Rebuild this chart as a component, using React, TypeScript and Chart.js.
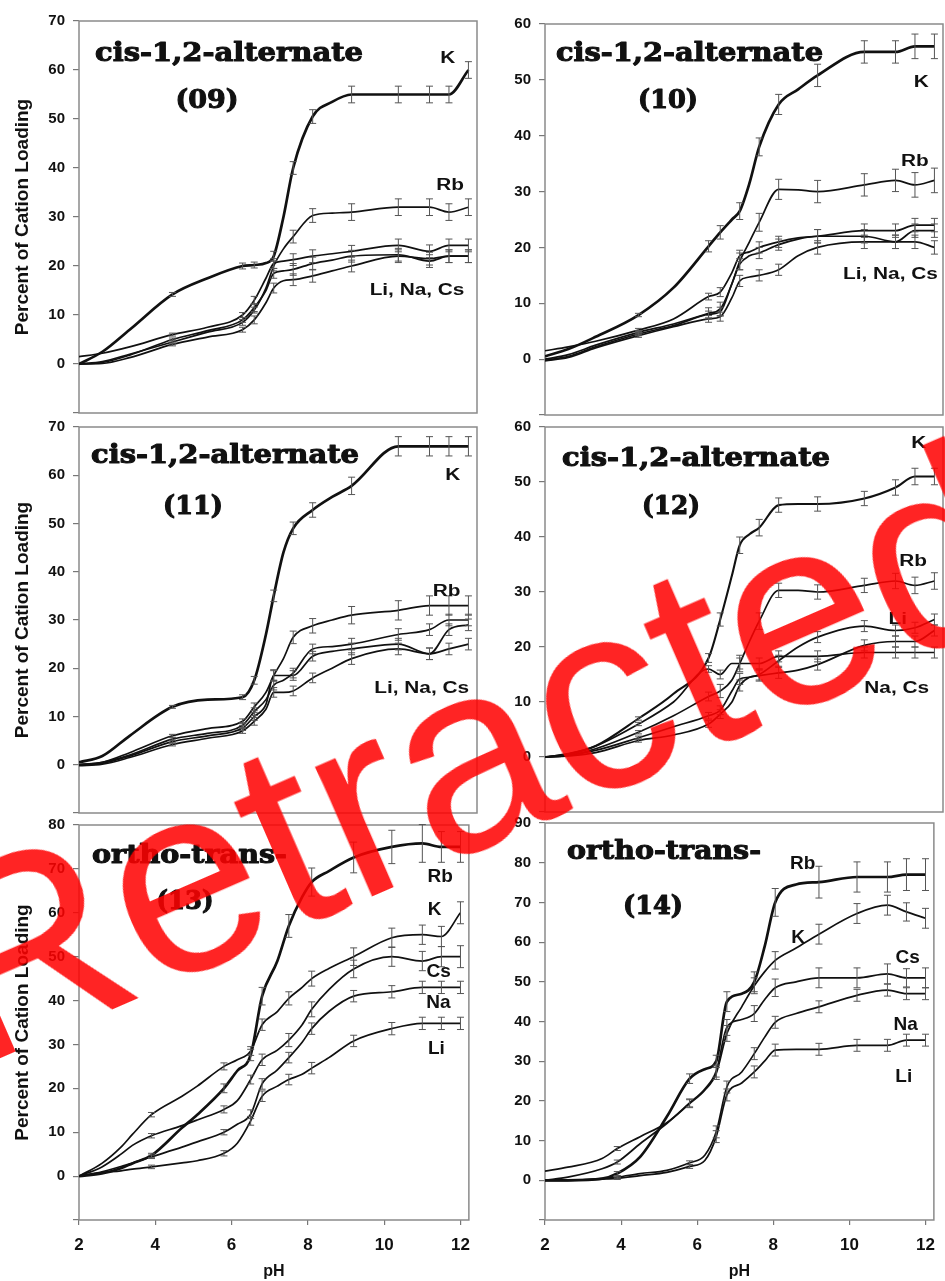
import React, { useEffect, useRef } from "react";
import { Chart, registerables } from "chart.js";

Chart.register(...registerables);

const FONT = '"Liberation Sans", Arial, Helvetica, sans-serif';
const SERIF = '"DejaVu Serif", "Liberation Serif", serif';

// ---------- axis values ----------
const xTicks = [2, 4, 6, 8, 10, 12];
const yTitle = "Percent of Cation Loading";
const xTitle = "pH";

// ---------- pH grids ----------
const phTop = [2, 2.6, 3.3, 4.4, 5.3, 6.2, 6.5, 6.8, 7.0, 7.25, 7.5, 8.0, 8.5, 9.0, 10.2, 11, 11.5, 12];
const ph13 = [2, 2.6, 3.1, 3.4, 3.9, 4.7, 5.1, 5.8, 6.15, 6.5, 6.8, 7.2, 7.5, 7.85, 8.1, 8.55, 9.2, 10.2, 11, 11.5, 12];
const ph14 = [2, 2.6, 3.5, 3.9, 4.5, 5.2, 5.8, 6.2, 6.5, 6.78, 7.17, 7.5, 7.77, 8.05, 8.6, 9.2, 10.2, 11, 11.5, 12];

// ---------- panel (09) ----------
const k09 = [0, 2.5, 7, 14.2, 17.5, 20, 20.2, 20.6, 22, 30, 40, 50.5, 53.5, 55, 55, 55, 55, 60];
const rb09 = [0, 0.5, 2, 4.5, 6.5, 8.5, 11, 15.5, 20, 23.5, 26, 30.3, 30.8, 31, 32, 32, 31, 32];
const cs09 = [1.5, 2.2, 3.5, 6, 7.5, 10, 13, 17.5, 20.5, 21, 21.3, 22, 22.5, 23, 24.2, 23, 24.2, 24.2];
const na09 = [0, 0.3, 1.8, 5, 6.8, 9, 11.5, 15, 18.5, 19, 19.3, 20.5, 21.2, 22, 22.3, 21, 22, 22];
const li09 = [0, 0.1, 1.3, 4, 5.5, 7, 9, 12.5, 15.5, 17, 17.2, 18, 19, 20, 22, 21.5, 22, 22];
const errHi09 = [0, 0, 0, 0.4, 0, 0.6, 0.6, 0, 1, 0, 1.3, 1.4, 0, 1.7, 1.7, 1.7, 1.7, 1.7];
const errLo09 = [0, 0, 0, 0.3, 0, 0.5, 0.8, 0, 1, 0, 1.2, 1.3, 0, 1.2, 1.3, 1.3, 1.3, 1.3];

// ---------- panel (10) ----------
const k10 = [0.5, 1.8, 4, 7.9, 12.8, 20.2, 22.7, 25, 26.5, 31.5, 38, 45.6, 48.3, 50.8, 55, 55, 56, 56];
const rb10 = [0, 0.8, 2.5, 4.8, 6.3, 8.2, 9, 13.5, 17.5, 21, 24.5, 30.4, 30.3, 30, 31.2, 32, 31.2, 32];
const cs10 = [1.5, 2.2, 3.2, 5.2, 7.2, 11.2, 12, 15.5, 18.5, 19.2, 20, 21, 21.7, 22, 23, 23, 24, 24];
const na10 = [-0.2, 0.5, 2.2, 4.5, 6, 8, 8.5, 13.5, 17, 18.5, 19, 20.5, 21.5, 22, 22, 21, 23, 23];
const li10 = [-0.3, 0.3, 2, 4.2, 5.8, 7.2, 7.6, 11, 14, 14.7, 15, 16, 18.5, 20, 21, 21, 21, 20];
const errHi10 = [0, 0, 0, 0.3, 0, 1, 1.2, 0, 1.5, 0, 1.6, 1.8, 0, 2, 2, 2, 2.2, 2.2];
const errLo10 = [0, 0, 0, 0.3, 0, 0.6, 0.8, 0, 1, 0, 1, 1, 0, 1.2, 1.2, 1.2, 1.2, 1.2];

// ---------- panel (11) ----------
const k11 = [0.5, 1.8, 6, 12, 13.5, 14, 17.5, 27, 35, 44, 49, 52.8, 55.5, 57.8, 66, 66, 66, 66];
const rb11 = [0, 0.5, 2.5, 6, 7.5, 9, 12, 15, 18.5, 22, 26.4, 28.8, 30, 31, 32, 33, 33, 33];
const cs11 = [0, 0.5, 2, 5.3, 6.5, 8.2, 11, 13.5, 16.5, 17.5, 19, 24, 24.5, 25, 27, 28, 30, 30];
const na11 = [0, 0.3, 1.8, 4.8, 6, 7.6, 10, 12.5, 18.5, 18.5, 18.5, 22.5, 23.5, 24, 25, 23, 28, 29];
const li11 = [-0.2, 0.1, 1.5, 4.2, 5.5, 7, 9, 11.5, 15, 15, 15.3, 18, 20, 22, 24, 23, 24, 25];
const errHi11 = [0, 0, 0, 0.3, 0, 0.5, 0.8, 0, 1.2, 0, 1.3, 1.5, 0, 1.8, 2, 2, 2, 2];
const errLo11 = [0, 0, 0, 0.3, 0, 0.5, 0.8, 0, 1, 0, 1, 1, 0, 1.2, 1.2, 1.2, 1.2, 1.2];

// ---------- panel (12) ----------
const k12 = [0, 0.5, 2, 7, 11.5, 18, 25, 33, 38.5, 40.5, 41.7, 45.8, 46, 46, 47, 49, 51, 51];
const rb12 = [0, 0.3, 1.5, 4.5, 7.5, 11, 12, 14, 17, 21, 24.7, 30.3, 30.3, 30, 31.2, 32, 31.2, 32];
const cs12 = [0, 0.6, 2, 6, 10, 16, 15, 17, 17, 17, 17, 18.3, 18.3, 18.3, 19, 19, 19, 19];
const li12 = [0, 0.3, 1.2, 3.5, 5.5, 7.5, 8.5, 12, 14.2, 14.5, 15, 17.5, 20, 21.8, 23.8, 23, 23.5, 25];
const na12 = [0, 0.2, 0.8, 3, 4, 6, 7.8, 10, 13, 14.5, 14.8, 15.3, 15.8, 16.8, 20.3, 21, 21, 23];
const errHi12 = [0, 0, 0, 0.3, 0, 0.8, 1.2, 0, 1.5, 0, 1.5, 1.3, 0, 1.3, 1.3, 1.4, 1.5, 1.5];
const errLo12 = [0, 0, 0, 0.3, 0, 0.6, 0.8, 0, 1, 0, 1, 1, 0, 1, 1, 1, 1, 1];

// ---------- panel (13) ----------
const rb13 = [0, 0.6, 1.8, 2.9, 4.7, 11, 14, 20, 24, 27.6, 41, 49, 57, 63.6, 67, 69.5, 72.6, 75, 75.8, 75, 75];
const k13 = [0, 2.9, 6.6, 9.5, 14, 18.2, 20.5, 25, 26.5, 28.5, 34.5, 37.5, 40.5, 43, 45, 47.3, 50, 54.3, 55, 54.6, 60];
const cs13 = [0, 2.1, 5, 7, 9.2, 11.5, 12.8, 15.2, 17.2, 22, 26.5, 28.7, 31, 34.5, 38, 42.5, 47.2, 50, 49, 50, 50];
const na13 = [0, 1, 2.2, 3, 4.4, 6.6, 7.8, 10, 11.8, 14.1, 21, 24.2, 27, 30.5, 33.6, 37.5, 41, 42, 43, 43, 43];
const li13 = [0, 0.8, 1.2, 1.6, 2.1, 3, 3.5, 5.2, 7.5, 12.6, 18.2, 20.5, 22, 23.2, 24.6, 27, 30.8, 33.6, 34.8, 34.8, 34.8];
const errHi13 = [0, 0, 0, 0, 0.5, 0, 0, 1, 0, 1.3, 2, 0, 2.6, 0, 3.2, 0, 3.5, 3.8, 4.3, 3.5, 3.5];
const errMid13 = [0, 0, 0, 0, 0.5, 0, 0, 0.8, 0, 1, 1.3, 0, 1.5, 0, 1.7, 0, 2, 2.2, 2.2, 2.3, 2.5];
const errLo13 = [0, 0, 0, 0, 0.4, 0, 0, 0.6, 0, 1, 1.2, 0, 1.2, 0, 1.3, 0, 1.3, 1.4, 1.4, 1.4, 1.4];

// ---------- panel (14) ----------
const rb14 = [0, 0, 0.4, 1.7, 5.9, 16, 25.6, 28, 30, 45, 47, 50, 58.8, 70, 74.5, 75.1, 76.4, 76.4, 77, 77];
const k14 = [0, 0.8, 2.9, 4.6, 9.2, 14.3, 19.3, 22.7, 26.9, 37, 43.7, 49, 52.5, 55.4, 58.5, 62, 67.2, 69.3, 67.6, 66];
const cs14 = [2.3, 3.3, 5.5, 8, 11, 14.5, 19.5, 23, 27.5, 38.5, 40.5, 42, 45.5, 48.5, 50, 51, 51, 52, 51, 51];
const na14 = [0, 0, 0.4, 0.8, 1.7, 2.5, 4.4, 6.3, 12.2, 23.5, 27.3, 31.9, 36, 39.8, 42, 43.7, 46.6, 47.9, 47, 47];
const li14 = [0, 0, 0.3, 0.5, 1.2, 2, 3.5, 5, 11, 21.5, 24.5, 27.3, 30, 32.8, 33, 33, 34, 34, 35.3, 35.3];
const errHi14 = [0, 0, 0, 0.5, 0, 0, 1.2, 0, 1.5, 2.5, 0, 2.5, 0, 3.5, 0, 4, 3.8, 3.8, 4, 4];
const errMid14 = [0, 0, 0, 0.5, 0, 0, 1, 0, 1.5, 2, 0, 2, 0, 2.2, 0, 2.5, 2.5, 2.5, 2.3, 2.5];
const errLo14 = [0, 0, 0, 0.3, 0, 0, 0.5, 0, 1.5, 1.5, 0, 1.5, 0, 1.5, 0, 1.5, 1.5, 1.5, 1.5, 1.5];

type Series = { name: string; y: number[]; err: number[]; width: number };
type Label = { text: string; x: number; y: number };
type Panel = {
  key: string;
  left: number;
  top: number;
  w: number;
  h: number;
  pad: { top: number; bottom: number; left: number; right: number };
  axisW: number;
  yMax: number;
  showX: boolean;
  showYTitle: boolean;
  ph: number[];
  series: Series[];
  title: string;
  titleDX: number;
  titleDY: number;
  titleW: number;
  sub: string;
  subDX: number;
  subDY: number;
  subW: number;
  labels: Label[];
  labelSize: number;
  labelSX: number;
};

const THICK = 2.7;
const THIN = 1.7;

const panels: Panel[] = [
  {
    key: "09", left: 0, top: 0, w: 480, h: 430,
    pad: { top: 21, bottom: 8, left: 0, right: 3 }, axisW: 79, yMax: 70,
    showX: false, showYTitle: true, ph: phTop,
    series: [
      { name: "K", y: k09, err: errHi09, width: THICK },
      { name: "Rb", y: rb09, err: errHi09, width: THIN },
      { name: "Cs", y: cs09, err: errLo09, width: THIN },
      { name: "Na", y: na09, err: errLo09, width: THIN },
      { name: "Li", y: li09, err: errLo09, width: THIN },
    ],
    title: "cis-1,2-alternate", titleDX: 16, titleDY: 40, titleW: 268,
    sub: "(09)", subDX: 128, subDY: 80, subW: 63,
    labels: [
      { text: "K", x: 11.47, y: 62.4 },
      { text: "Rb", x: 11.53, y: 36.5 },
      { text: "Li, Na, Cs", x: 10.68, y: 14.9 },
    ],
    labelSize: 16, labelSX: 1.3,
  },
  {
    key: "10", left: 480, top: 0, w: 465, h: 432,
    pad: { top: 24, bottom: 8, left: 0, right: 2 }, axisW: 65, yMax: 60,
    showX: false, showYTitle: false, ph: phTop,
    series: [
      { name: "K", y: k10, err: errHi10, width: THICK },
      { name: "Rb", y: rb10, err: errHi10, width: THIN },
      { name: "Cs", y: cs10, err: errLo10, width: THIN },
      { name: "Na", y: na10, err: errLo10, width: THIN },
      { name: "Li", y: li10, err: errLo10, width: THIN },
    ],
    title: "cis-1,2-alternate", titleDX: 11, titleDY: 37, titleW: 267,
    sub: "(10)", subDX: 123, subDY: 77, subW: 60,
    labels: [
      { text: "K", x: 11.66, y: 49.5 },
      { text: "Rb", x: 11.5, y: 35.3 },
      { text: "Li, Na, Cs", x: 10.87, y: 15.2 },
    ],
    labelSize: 16, labelSX: 1.3,
  },
  {
    key: "11", left: 0, top: 410, w: 480, h: 420,
    pad: { top: 13, bottom: 8, left: 0, right: 3 }, axisW: 79, yMax: 70,
    showX: false, showYTitle: true, ph: phTop,
    series: [
      { name: "K", y: k11, err: errHi11, width: THICK },
      { name: "Rb", y: rb11, err: errHi11, width: THIN },
      { name: "Cs", y: cs11, err: errLo11, width: THIN },
      { name: "Na", y: na11, err: errLo11, width: THIN },
      { name: "Li", y: li11, err: errLo11, width: THIN },
    ],
    title: "cis-1,2-alternate", titleDX: 12, titleDY: 36, titleW: 268,
    sub: "(11)", subDX: 114, subDY: 80, subW: 60,
    labels: [
      { text: "K", x: 11.6, y: 59.9 },
      { text: "Rb", x: 11.44, y: 35.9 },
      { text: "Li, Na, Cs", x: 10.8, y: 15.8 },
    ],
    labelSize: 16, labelSX: 1.3,
  },
  {
    key: "12", left: 480, top: 410, w: 465, h: 419,
    pad: { top: 13, bottom: 8, left: 0, right: 2 }, axisW: 65, yMax: 60,
    showX: false, showYTitle: false, ph: phTop,
    series: [
      { name: "K", y: k12, err: errHi12, width: 2.1 },
      { name: "Rb", y: rb12, err: errHi12, width: THIN },
      { name: "Cs", y: cs12, err: errLo12, width: THIN },
      { name: "Li", y: li12, err: errLo12, width: THIN },
      { name: "Na", y: na12, err: errLo12, width: THIN },
    ],
    title: "cis-1,2-alternate", titleDX: 17, titleDY: 39, titleW: 268,
    sub: "(12)", subDX: 126, subDY: 80, subW: 58,
    labels: [
      { text: "K", x: 11.6, y: 57 },
      { text: "Rb", x: 11.45, y: 35.6 },
      { text: "Li", x: 11.06, y: 25 },
      { text: "Na, Cs", x: 11.03, y: 12.5 },
    ],
    labelSize: 16, labelSX: 1.3,
  },
  {
    key: "13", left: 0, top: 808, w: 480, h: 473,
    pad: { top: 13, bottom: 0, left: 0, right: 3 }, axisW: 79, yMax: 80,
    showX: true, showYTitle: true, ph: ph13,
    series: [
      { name: "Rb", y: rb13, err: errHi13, width: THICK },
      { name: "K", y: k13, err: errMid13, width: THIN },
      { name: "Cs", y: cs13, err: errMid13, width: THIN },
      { name: "Na", y: na13, err: errLo13, width: THIN },
      { name: "Li", y: li13, err: errLo13, width: THIN },
    ],
    title: "ortho-trans-", titleDX: 13, titleDY: 38, titleW: 195,
    sub: "(13)", subDX: 106, subDY: 77, subW: 57,
    labels: [
      { text: "Rb", x: 11.47, y: 68.1 },
      { text: "K", x: 11.32, y: 60.7 },
      { text: "Cs", x: 11.43, y: 46.5 },
      { text: "Na", x: 11.42, y: 39.5 },
      { text: "Li", x: 11.37, y: 29.1 },
    ],
    labelSize: 19, labelSX: 1.0,
  },
  {
    key: "14", left: 480, top: 806, w: 465, h: 475,
    pad: { top: 13, bottom: 0, left: 0, right: 2 }, axisW: 65, yMax: 90,
    showX: true, showYTitle: false, ph: ph14,
    series: [
      { name: "Rb", y: rb14, err: errHi14, width: THICK },
      { name: "K", y: k14, err: errMid14, width: THIN },
      { name: "Cs", y: cs14, err: errMid14, width: THIN },
      { name: "Na", y: na14, err: errLo14, width: THIN },
      { name: "Li", y: li14, err: errLo14, width: THIN },
    ],
    title: "ortho-trans-", titleDX: 22, titleDY: 36, titleW: 194,
    sub: "(14)", subDX: 108, subDY: 84, subW: 60,
    labels: [
      { text: "Rb", x: 8.77, y: 79.7 },
      { text: "K", x: 8.65, y: 61.1 },
      { text: "Cs", x: 11.53, y: 56.1 },
      { text: "Na", x: 11.48, y: 39.3 },
      { text: "Li", x: 11.43, y: 26.1 },
    ],
    labelSize: 19, labelSX: 1.0,
  },
];

function makeDeco(p: Panel) {
  return {
    id: "deco" + p.key,
    beforeDatasetsDraw(chart: any) {
      const { ctx, chartArea: a } = chart;
      ctx.save();
      ctx.strokeStyle = "#8a8a8a";
      ctx.lineWidth = 1.5;
      ctx.strokeRect(a.left, a.top, a.right - a.left, a.bottom - a.top);
      ctx.restore();
    },
    afterDatasetsDraw(chart: any) {
      const { ctx, chartArea: a, scales } = chart;
      const xs = scales.x;
      const ys = scales.y;
      ctx.save();
      // error bars
      ctx.strokeStyle = "#555";
      ctx.lineWidth = 1;
      p.series.forEach((s) => {
        s.err.forEach((e, i) => {
          if (!e) return;
          const px = xs.getPixelForValue(p.ph[i]);
          const t = ys.getPixelForValue(s.y[i] + e);
          const b = ys.getPixelForValue(s.y[i] - e);
          ctx.beginPath();
          ctx.moveTo(px, t);
          ctx.lineTo(px, b);
          ctx.moveTo(px - 3.5, t);
          ctx.lineTo(px + 3.5, t);
          ctx.moveTo(px - 3.5, b);
          ctx.lineTo(px + 3.5, b);
          ctx.stroke();
        });
      });
      // title
      ctx.fillStyle = "#111";
      ctx.strokeStyle = "#111";
      ctx.lineWidth = 1.1;
      ctx.lineJoin = "round";
      ctx.font = `bold 26px ${SERIF}`;
      ctx.textAlign = "left";
      ctx.textBaseline = "alphabetic";
      let w = ctx.measureText(p.title).width;
      ctx.save();
      ctx.translate(a.left + p.titleDX, a.top + p.titleDY);
      ctx.scale(p.titleW / w, 1);
      ctx.fillText(p.title, 0, 0);
      ctx.strokeText(p.title, 0, 0);
      ctx.restore();
      // sub title
      ctx.textAlign = "center";
      ctx.textBaseline = "middle";
      w = ctx.measureText(p.sub).width;
      ctx.save();
      ctx.translate(a.left + p.subDX, a.top + p.subDY);
      ctx.scale(p.subW / w, 1);
      ctx.fillText(p.sub, 0, 0);
      ctx.strokeText(p.sub, 0, 0);
      ctx.restore();
      // series labels
      ctx.font = `bold ${p.labelSize}px ${FONT}`;
      p.labels.forEach((l) => {
        ctx.save();
        ctx.translate(xs.getPixelForValue(l.x), ys.getPixelForValue(l.y));
        ctx.scale(p.labelSX, 1);
        ctx.fillText(l.text, 0, 0);
        ctx.restore();
      });
      ctx.restore();
    },
  };
}

function PanelChart({ p }: { p: Panel }) {
  const ref = useRef<HTMLCanvasElement | null>(null);
  useEffect(() => {
    if (!ref.current) return;
    const chart = new Chart(ref.current, {
      type: "line",
      data: {
        datasets: p.series.map((s) => ({
          label: s.name,
          data: p.ph.map((x, i) => ({ x, y: s.y[i] })),
          borderColor: "#111",
          borderWidth: s.width,
          pointRadius: 0,
          tension: 0.4,
          cubicInterpolationMode: "monotone",
          fill: false,
        })),
      },
      options: {
        responsive: true,
        maintainAspectRatio: false,
        animation: false,
        devicePixelRatio: 1,
        events: [],
        layout: { padding: p.pad },
        plugins: { legend: { display: false }, tooltip: { enabled: false } },
        scales: {
          x: {
            type: "linear",
            min: 2,
            max: 12.22,
            display: p.showX,
            afterBuildTicks: (s: any) => {
              s.ticks = xTicks.map((v) => ({ value: v }));
            },
            afterFit: (s: any) => {
              s.height = p.showX ? 61 : 0;
            },
            grid: { display: true, drawOnChartArea: false, drawTicks: true, tickLength: 5, color: "#777", lineWidth: 1.2 },
            border: { display: false },
            ticks: { font: { family: FONT, size: 17, weight: "bold" }, color: "#111", padding: 10, maxRotation: 0, autoSkip: false },
            title: { display: true, text: xTitle, font: { family: FONT, size: 16, weight: "bold" }, color: "#111", padding: { top: 0, bottom: 0 } },
          },
          y: {
            type: "linear",
            min: -10,
            max: p.yMax,
            afterFit: (s: any) => {
              s.width = p.axisW;
            },
            ticks: {
              stepSize: 10,
              autoSkip: false,
              callback: (v: any) => (Number(v) < 0 ? "" : String(v)),
              font: { family: FONT, size: 15, weight: "bold" },
              color: "#111",
              padding: 8,
            },
            grid: { display: true, drawOnChartArea: false, drawTicks: true, tickLength: 6, color: "#777", lineWidth: 1.2 },
            border: { display: false },
            title: { display: p.showYTitle, text: yTitle, font: { family: FONT, size: 19, weight: "bold" }, color: "#111", padding: { top: 11, bottom: 0 } },
          },
        },
      } as any,
      plugins: [makeDeco(p)],
    });
    return () => chart.destroy();
  }, [p]);
  return (
    <div style={{ position: "absolute", left: p.left, top: p.top, width: p.w, height: p.h }}>
      <canvas ref={ref} />
    </div>
  );
}

export default function App() {
  return (
    <div
      style={{
        position: "absolute",
        left: 0,
        top: 0,
        width: 945,
        height: 1281,
        overflow: "hidden",
        background: "#fff",
      }}
    >
      {panels.map((p) => (
        <PanelChart key={p.key} p={p} />
      ))}
      <div
        style={{
          position: "absolute",
          left: -118,
          top: 862,
          fontFamily: FONT,
          fontSize: 268,
          lineHeight: "268px",
          color: "rgba(255,0,0,0.86)",
          transform: "rotate(-23.5deg)",
          transformOrigin: "0 0",
          whiteSpace: "nowrap",
          pointerEvents: "none",
        }}
      >
        Retracted
      </div>
    </div>
  );
}
